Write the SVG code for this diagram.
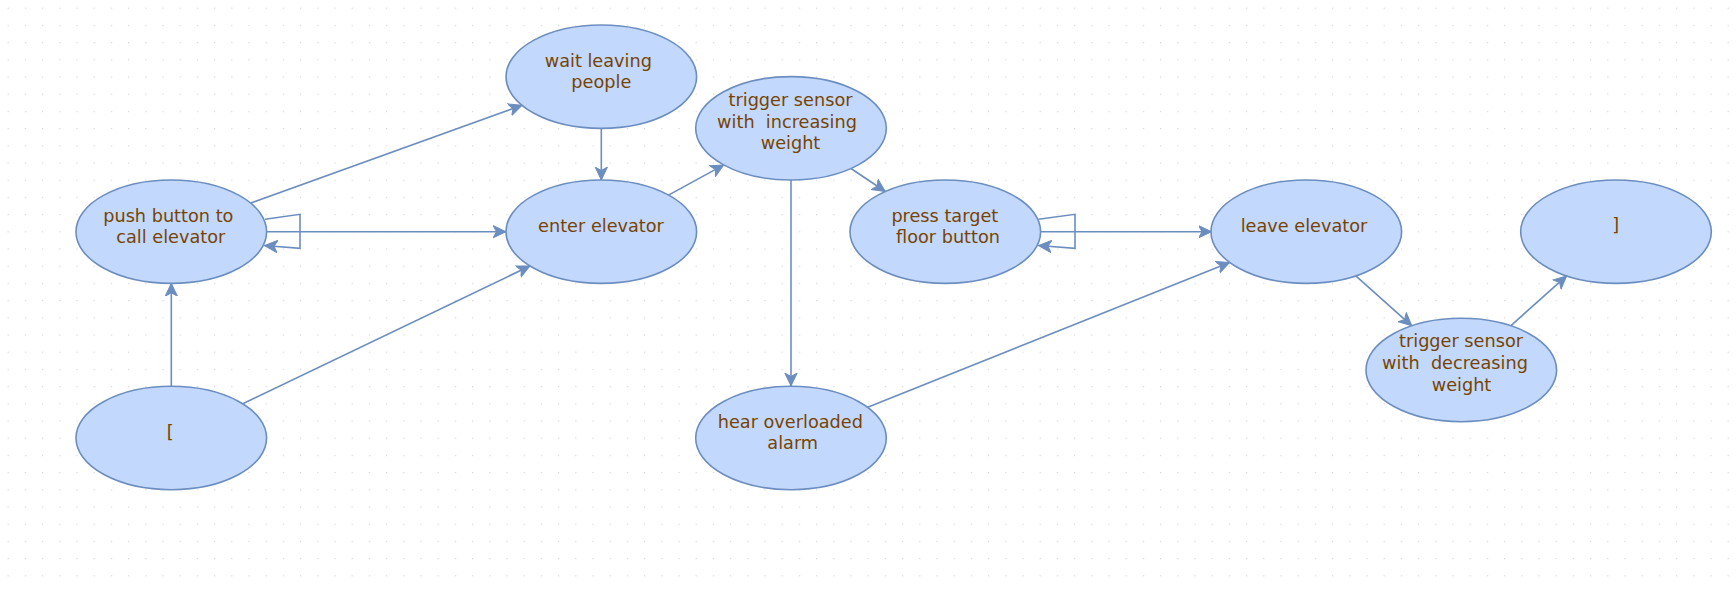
<svg xmlns="http://www.w3.org/2000/svg" width="1736" height="592" viewBox="0 0 1736 592">
<style>
.n ellipse{fill:#c3d8fd;stroke:#6c8ebf;stroke-width:1.6}
.n text{font-family:"DejaVu Sans",sans-serif;font-size:17.7px;fill:#774400;text-anchor:middle}
.e path{fill:none;stroke:#6c8ebf;stroke-width:1.6;marker-end:url(#arr)}
</style>
<defs>
<pattern id="grid" patternUnits="userSpaceOnUse" x="0" y="0" width="17.2" height="17.2">
<rect x="7.8" y="7.8" width="1" height="1" fill="#c4c4c4"/>
</pattern>
<marker id="arr" markerUnits="userSpaceOnUse" viewBox="0 0 14 14" markerWidth="14" markerHeight="14" refX="13" refY="7" orient="auto">
<path d="M13,7 L0,0.8 L3.5,7 L0,13.2 Z" fill="#6c8ebf" stroke="#6c8ebf" stroke-width="1"/>
</marker>
</defs>
<rect width="1736" height="592" fill="#ffffff"/>
<rect width="1736" height="592" fill="url(#grid)"/>

<g class="e" id="connectors">
<path d="M250.7,203.1 L521.9,105.3"/>
<path d="M265,219.3 L300,214.3 L300,248.3 L264.5,245.5"/>
<path d="M266.6,231.7 L506,231.7"/>
<path d="M171.3,386 L171.3,283.3"/>
<path d="M242.7,403.8 L529.9,266"/>
<path d="M601.3,128.3 L601.3,180"/>
<path d="M668.5,195.1 L723.8,164.9"/>
<path d="M851,168.5 L885.3,191.5"/>
<path d="M791,180 L791,386"/>
<path d="M1038.5,219.3 L1075,214.3 L1075,248.3 L1038.5,245.5"/>
<path d="M1040.6,231.7 L1211.5,231.7"/>
<path d="M867.7,407.3 L1229.6,262.4"/>
<path d="M1355.8,275.9 L1411.8,325.8"/>
<path d="M1510.7,325.8 L1566.6,275.9"/>
</g>

<g class="n" id="push">
<ellipse cx="171.3" cy="231.7" rx="95.3" ry="51.7"/>
<text x="168.3" y="221.7">push button to</text>
<text x="170.8" y="242.7">call elevator</text>
</g>
<g class="n" id="wait">
<ellipse cx="601.3" cy="76.7" rx="95.3" ry="51.7"/>
<text x="598.3" y="67.3">wait leaving</text>
<text x="601.3" y="88.3">people</text>
</g>
<g class="n" id="enter">
<ellipse cx="601.3" cy="231.7" rx="95.3" ry="51.7"/>
<text x="601" y="231.7">enter elevator</text>
</g>
<g class="n" id="trigInc">
<ellipse cx="791" cy="128.3" rx="95.3" ry="51.7"/>
<text x="790.5" y="105.7">trigger sensor</text>
<text x="787" y="127.7" xml:space="preserve">with  increasing</text>
<text x="790.5" y="149.3">weight</text>
</g>
<g class="n" id="press">
<ellipse cx="945.3" cy="231.7" rx="95.3" ry="51.7"/>
<text x="944.8" y="221.7">press target</text>
<text x="948" y="242.7">floor button</text>
</g>
<g class="n" id="hear">
<ellipse cx="791" cy="438" rx="95.3" ry="51.7"/>
<text x="790.3" y="427.7">hear overloaded</text>
<text x="792.7" y="449.3">alarm</text>
</g>
<g class="n" id="leave">
<ellipse cx="1306.3" cy="231.7" rx="95.3" ry="51.7"/>
<text x="1304" y="231.7">leave elevator</text>
</g>
<g class="n" id="trigDec">
<ellipse cx="1461.3" cy="370" rx="95.3" ry="51.7"/>
<text x="1461" y="346.7">trigger sensor</text>
<text x="1455" y="369" xml:space="preserve">with  decreasing</text>
<text x="1461.5" y="390.7">weight</text>
</g>
<g class="n" id="start">
<ellipse cx="171.3" cy="438" rx="95.3" ry="51.7"/>
<text x="170.2" y="438.3">[</text>
</g>
<g class="n" id="end">
<ellipse cx="1616" cy="231.7" rx="95.3" ry="51.7"/>
<text x="1615.8" y="230.5">]</text>
</g>
</svg>
